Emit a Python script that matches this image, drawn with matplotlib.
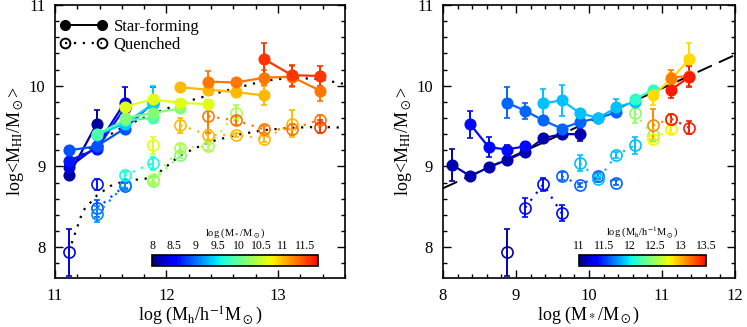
import numpy as np
import matplotlib.pyplot as plt
from matplotlib.colors import ListedColormap, Normalize
from matplotlib.lines import Line2D
from matplotlib.ticker import MultipleLocator

plt.rcParams['font.family'] = ['Liberation Serif', 'DejaVu Serif']
plt.rcParams['mathtext.fontset'] = 'stix'

# ---- left panel: x = halo mass, colour = stellar mass bin ----
# star-forming
sfL_col = [8.125, 8.125,
           8.375, 8.375, 8.375,
           8.625, 8.625, 8.625,
           8.875, 8.875, 8.875, 8.875,
           9.375, 9.375, 9.375,
           9.875, 9.875, 9.875,
           10.125, 10.125, 10.125,
           10.625, 10.625, 10.625, 10.625,
           11.0, 11.0, 11.0, 11.0,
           11.3, 11.3, 11.3, 11.3, 11.3,
           11.6, 11.6, 11.6]
sfL_x = [11.125, 11.375,
         11.125, 11.375, 11.625,
         11.125, 11.375, 11.625,
         11.125, 11.375, 11.625, 11.875,
         11.375, 11.625, 11.875,
         11.375, 11.625, 11.875,
         11.625, 11.875, 12.125,
         11.625, 11.875, 12.125, 12.375,
         12.125, 12.375, 12.625, 12.875,
         12.375, 12.625, 12.875, 13.125, 13.375,
         12.875, 13.125, 13.375]
sfL_y = [8.89, 9.53,
         8.99, 9.25, 9.79,
         9.07, 9.22, 9.72,
         9.20, 9.25, 9.47, 9.78,
         9.39, 9.53, 9.77,
         9.40, 9.57, 9.60,
         9.60, 9.66, 9.72,
         9.74, 9.83, 9.79, 9.77,
         9.98, 9.95, 9.92, 9.88,
         10.05, 10.04, 10.10, 10.11, 9.94,
         10.33, 10.13, 10.12]
sfL_e = [0.05, 0.17,
         0.04, 0.10, 0.19,
         0.03, 0.05, 0.10,
         0.03, 0.05, 0.05, 0.20,
         0.05, 0.05, 0.23,
         0.10, 0.05, 0.04,
         0.05, 0.05, 0.04,
         0.08, 0.05, 0.03, 0.04,
         0.03, 0.05, 0.04, 0.12,
         0.13, 0.04, 0.09, 0.13, 0.13,
         0.20, 0.13, 0.12]
# quenched
qL_col = [8.375,
          8.625,
          8.875, 8.875,
          9.125, 9.125,
          9.625, 9.625,
          10.125, 10.125,
          10.375, 10.375, 10.375, 10.375,
          10.625,
          11.0, 11.0, 11.0, 11.0, 11.0,
          11.3, 11.3, 11.3, 11.3, 11.3,
          11.6]
qL_x = [11.125,
        11.375,
        11.375, 11.625,
        11.375, 11.625,
        11.625, 11.875,
        11.875, 12.125,
        11.875, 12.125, 12.375, 12.625,
        11.875,
        12.125, 12.375, 12.625, 12.875, 13.125,
        12.375, 12.625, 12.875, 13.125, 13.375,
        13.375]
qL_y = [7.94,
        8.78,
        8.48, 8.76,
        8.41, 8.77,
        8.89, 9.04,
        8.82, 9.14,
        8.84, 9.23, 9.25, 9.66,
        9.26,
        9.51, 9.39, 9.39, 9.34, 9.53,
        9.62, 9.57, 9.46, 9.46, 9.58,
        9.49]
qL_e = [0.29,
        0.07,
        0.10, 0.04,
        0.10, 0.04,
        0.04, 0.08,
        0.04, 0.04,
        0.03, 0.04, 0.04, 0.10,
        0.10,
        0.09, 0.06, 0.03, 0.04, 0.17,
        0.20, 0.06, 0.04, 0.07, 0.06,
        0.08]
# black dotted curves (left)
sf_curve_x = [11.125, 11.375, 11.625, 11.875, 12.125, 12.375, 12.625, 12.875, 13.125, 13.375, 13.6]
sf_curve_y = [9.00, 9.30, 9.50, 9.65, 9.78, 9.88, 9.97, 10.06, 10.10, 10.08, 10.02]
q_curve_x = [11.15, 11.25, 11.375, 11.5, 11.625, 11.875, 12.125, 12.375, 12.625, 12.875, 13.125, 13.375, 13.6]
q_curve_y = [8.05, 8.45, 8.64, 8.76, 8.82, 8.86, 9.14, 9.30, 9.39, 9.45, 9.48, 9.49, 9.48]

# ---- right panel: x = stellar mass, colour = halo mass bin ----
sfR_col = [11.125] * 8 + [11.375] * 4 + [11.625] * 7 + [11.875] * 6 + [12.125] * 2 + \
          [12.875] * 3 + [13.15] * 2 + [13.45] * 2
sfR_x = [8.125, 8.375, 8.625, 8.875, 9.125, 9.375, 9.625, 9.875,
         8.375, 8.625, 8.875, 9.125,
         8.875, 9.125, 9.375, 9.625, 9.875, 10.125, 10.375,
         9.375, 9.625, 9.875, 10.125, 10.375, 10.625,
         10.625, 10.875,
         10.875, 11.125, 11.375,
         11.125, 11.375,
         11.125, 11.375]
sfR_y = [9.02, 8.88, 8.99, 9.08, 9.18, 9.35, 9.40, 9.40,
         9.52, 9.24, 9.21, 9.25,
         9.79, 9.69, 9.57, 9.47, 9.55, 9.60, 9.67,
         9.78, 9.82, 9.66, 9.60, 9.73, 9.80,
         9.83, 9.95,
         9.88, 10.08, 10.33,
         10.10, 10.12,
         9.95, 10.11]
sfR_e = [0.20, 0.04, 0.03, 0.03, 0.03, 0.03, 0.03, 0.08,
         0.17, 0.12, 0.05, 0.05,
         0.19, 0.10, 0.05, 0.04, 0.04, 0.03, 0.04,
         0.18, 0.19, 0.05, 0.03, 0.10, 0.04,
         0.04, 0.05,
         0.12, 0.08, 0.20,
         0.10, 0.13,
         0.10, 0.13]
qR_col = [11.125] + [11.375] * 3 + [11.625] * 4 + [11.875] * 4 + [12.45] * 2 + \
         [12.8] * 2 + [13.1] * 2 + [13.45] * 2
qR_x = [8.875,
        9.125, 9.375, 9.625,
        9.625, 9.875, 10.125, 10.375,
        9.875, 10.125, 10.375, 10.625,
        10.625, 10.875,
        10.875, 11.125,
        10.875, 11.125,
        11.125, 11.375]
qR_y = [7.94,
        8.49, 8.78, 8.42,
        8.88, 8.77, 8.88, 8.80,
        9.04, 8.84, 9.14, 9.26,
        9.66, 9.39,
        9.34, 9.46,
        9.51, 9.59,
        9.59, 9.48]
qR_e = [0.29,
        0.12, 0.08, 0.10,
        0.05, 0.03, 0.04, 0.03,
        0.10, 0.03, 0.04, 0.10,
        0.12, 0.05,
        0.04, 0.04,
        0.20, 0.06,
        0.06, 0.08]
# dashed linear relation (right)
fit_x = [8.0, 12.0]
fit_y = [8.73, 10.38]

jet = plt.get_cmap('jet')
cmap = ListedColormap(jet(np.linspace(0.0, 0.9, 256)))


def draw(ax, col, x, y, e, norm, filled):
    col = np.array(col); x = np.array(x); y = np.array(y); e = np.array(e)
    for c in np.unique(col):
        m = col == c
        clr = cmap(norm(c))
        ax.errorbar(x[m], y[m], yerr=e[m], color=clr,
                    ls='-' if filled else (0, (1, 3)), lw=1.6,
                    marker='o', ms=7.5 if filled else 8,
                    mfc=clr if filled else 'none', mec=clr, mew=1.2,
                    capsize=2.5, elinewidth=1.4, capthick=1.2)


def style(ax, xlim, xlabel):
    ax.set_xlim(*xlim)
    ax.set_ylim(7.62, 11.0)
    ax.xaxis.set_major_locator(MultipleLocator(1))
    ax.xaxis.set_minor_locator(MultipleLocator(0.2))
    ax.yaxis.set_major_locator(MultipleLocator(1))
    ax.yaxis.set_minor_locator(MultipleLocator(0.2))
    ax.tick_params(which='both', direction='in', top=True, right=True, width=1.0)
    ax.tick_params(which='major', length=6, labelsize=12, pad=7)
    ax.tick_params(which='minor', length=3)
    for s in ax.spines.values():
        s.set_linewidth(1.2)
    ax.set_xlabel(xlabel, fontsize=13, labelpad=1)
    ax.set_ylabel(r'log<M$_{\rm HI}$/M$_\odot$>', fontsize=13, labelpad=2)


fig = plt.figure(figsize=(7.47, 3.27), dpi=100)
axL = fig.add_axes([0.0736, 0.150, 0.388, 0.835])
axR = fig.add_axes([0.593, 0.150, 0.391, 0.835])

normL = Normalize(8.0, 11.8)
normR = Normalize(11.0, 13.5)

axL.plot(sf_curve_x, sf_curve_y, color='k', ls=(0, (1, 3)), lw=1.6)
axL.plot(q_curve_x, q_curve_y, color='k', ls=(0, (1, 3)), lw=1.6)
draw(axL, qL_col, qL_x, qL_y, qL_e, normL, False)
draw(axL, sfL_col, sfL_x, sfL_y, sfL_e, normL, True)

axR.plot(fit_x, fit_y, color='k', ls=(0, (8, 4)), lw=1.4)
draw(axR, qR_col, qR_x, qR_y, qR_e, normR, False)
draw(axR, sfR_col, sfR_x, sfR_y, sfR_e, normR, True)

style(axL, (11.0, 13.6), r'log (M$_{\rm h}$/h$^{-1}$M$_\odot$)')
style(axR, (8.0, 12.0), r'log (M$_*$/M$_\odot$)')

handles = [Line2D([], [], color='k', ls='-', lw=1.4, marker='o', ms=7),
           Line2D([], [], color='k', ls=(0, (1, 3)), lw=1.6, marker='o', ms=7, mfc='none', mew=1.4)]
axL.legend(handles, ['Star-forming', 'Quenched'], loc='upper left', frameon=False,
           numpoints=2, fontsize=12, handlelength=2.8, handletextpad=0.4,
           borderaxespad=0.3, labelspacing=0.1, bbox_to_anchor=(-0.022, 0.99))


def cbar(rect, norm, ticks, labels, title):
    cax = fig.add_axes(rect)
    sm = plt.cm.ScalarMappable(norm=norm, cmap=cmap)
    cb = fig.colorbar(sm, cax=cax, orientation='horizontal')
    cb.outline.set_linewidth(1.2)
    cax.xaxis.set_ticks_position('top')
    cax.set_xticks(ticks)
    cax.set_xticklabels(labels)
    cax.tick_params(length=0, labelsize=8.5, pad=2)
    cax.set_title(title, fontsize=7.5, pad=14)


cbar([152 / 747, 1 - 266 / 327, 166 / 747, 11 / 327], normL,
     [8, 8.5, 9, 9.5, 10, 10.5, 11, 11.5],
     ['8', '8.5', '9', '9.5', '10', '10.5', '11', '11.5'],
     r'log (M$_*$/M$_\odot$)')
cbar([579 / 747, 1 - 266 / 327, 127 / 747, 11 / 327], normR,
     [11, 11.5, 12, 12.5, 13, 13.5],
     ['11', '11.5', '12', '12.5', '13', '13.5'],
     r'log (M$_{\rm h}$/h$^{-1}$M$_\odot$)')

fig.savefig('out.png', dpi=100)
